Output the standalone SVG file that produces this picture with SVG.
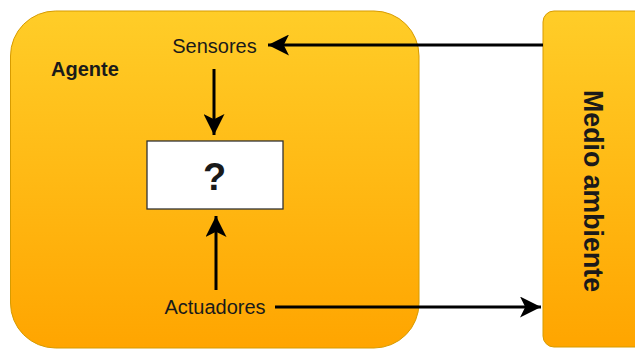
<svg xmlns="http://www.w3.org/2000/svg" width="635" height="349" viewBox="0 0 635 349">
<style>
.node{stroke:#d79b00;stroke-width:1}
.lbl{font-family:"Liberation Sans",Arial,sans-serif;fill:#1a1a1a}
.conn{stroke:#000;stroke-width:3;fill:none}
</style>
<defs>
<linearGradient id="g" x1="0" y1="0" x2="0" y2="1">
<stop offset="0" stop-color="#ffcd28"/>
<stop offset="1" stop-color="#ffa500"/>
</linearGradient>
<marker id="a" viewBox="0 0 20 20" refX="20" refY="10" markerWidth="21" markerHeight="21" markerUnits="userSpaceOnUse" orient="auto">
<path d="M0,0 L20,10 L0,20 L5,10 Z" fill="#000"/>
</marker>
</defs>
<g id="agente">
<rect class="node" x="10.5" y="11" width="408.5" height="337" rx="45" ry="45" fill="url(#g)"/>
<text class="lbl" x="51" y="76" font-size="20" font-weight="bold" fill="#000">Agente</text>
</g>
<g id="medio">
<rect class="node" x="543" y="11" width="105" height="336" rx="11" ry="11" fill="url(#g)"/>
<text class="lbl" x="0" y="0" font-size="28" font-weight="bold" text-anchor="middle" textLength="202" lengthAdjust="spacingAndGlyphs" transform="translate(584,191) rotate(90)" fill="#000">Medio ambiente</text>
</g>
<g id="sensores">
<text class="lbl" x="214.5" y="53" font-size="20" text-anchor="middle">Sensores</text>
</g>
<g id="actuadores">
<text class="lbl" x="215" y="314" font-size="20" text-anchor="middle">Actuadores</text>
</g>
<g id="caja">
<rect x="147" y="141" width="136" height="68" fill="#fff" stroke="#333" stroke-width="1.3"/>
<text class="lbl" x="214.5" y="190" font-size="38" font-weight="bold" text-anchor="middle" fill="#000">?</text>
</g>
<g id="connectors">
<line class="conn" x1="543" y1="45" x2="268" y2="45" marker-end="url(#a)"/>
<line class="conn" x1="214" y1="69" x2="214" y2="135" marker-end="url(#a)"/>
<line class="conn" x1="216" y1="290" x2="216" y2="216" marker-end="url(#a)"/>
<line class="conn" x1="275" y1="307" x2="541" y2="307" marker-end="url(#a)"/>
</g>
</svg>
